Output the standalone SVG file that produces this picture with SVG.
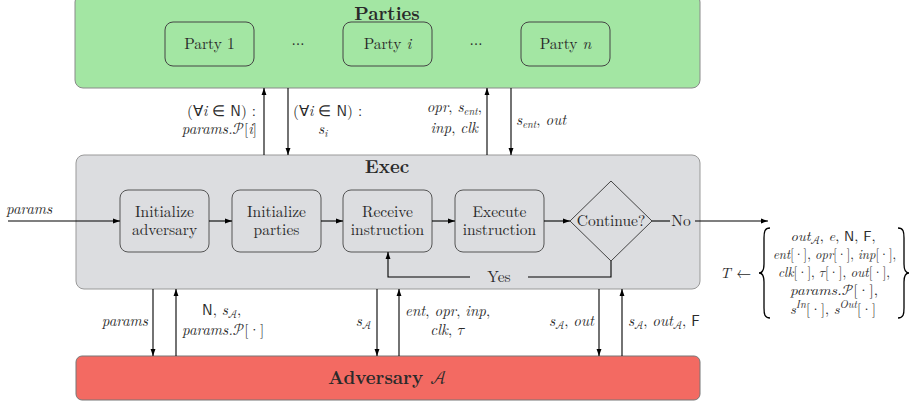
<svg xmlns="http://www.w3.org/2000/svg" width="918" height="405" viewBox="0 0 918 405" font-family="'Latin Modern Roman', 'Liberation Serif', serif">
<style>
text{fill:#2a2a2a}
.bx{font-size:15.5px;text-anchor:middle}
.ttl{font-size:18.5px;font-weight:bold;text-anchor:middle}
.lb{font-size:15px;font-style:italic}
.tf{font-size:14px;font-style:italic;text-anchor:middle}
.rm{font-style:normal}
.sub{font-size:10.5px}
.inner{fill:#dcdde0;stroke:#555;stroke-width:1}
.pbox{fill:#a3e6a3;stroke:#444;stroke-width:1}
.c{stroke:#000;stroke-width:1.1;fill:none}
</style>
<defs>
<marker id="ah" viewBox="0 0 10 10" refX="10" refY="5" markerWidth="7" markerHeight="7" orient="auto" markerUnits="userSpaceOnUse">
<path d="M0,1.5 L10,5 L0,8.5 Z" fill="#000"/>
</marker>
</defs>

<g id="parties">
<rect x="75" y="-6" width="625" height="94" rx="8" fill="#a3e6a3" stroke="#8a8a8a" stroke-width="1"/>
<text class="ttl" x="387" y="20">Parties</text>
<text class="bx" x="298" y="48" font-size="22" font-family="'Latin Modern Math', serif">⋯</text>
<text class="bx" x="476" y="48" font-size="22" font-family="'Latin Modern Math', serif">⋯</text>
</g>
<g id="party1"><rect class="pbox" x="165" y="22" width="89" height="44" rx="8"/><text class="bx" x="209.5" y="49">Party 1</text></g>
<g id="partyi"><rect class="pbox" x="343" y="22" width="89" height="44" rx="8"/><text class="bx" x="387.5" y="49">Party <tspan font-style="italic">i</tspan></text></g>
<g id="partyn"><rect class="pbox" x="521" y="22" width="89" height="44" rx="8"/><text class="bx" x="565.5" y="49">Party <tspan font-style="italic">n</tspan></text></g>

<g id="exec">
<rect x="76" y="155" width="624" height="134" rx="8" fill="#dcdde0" stroke="#999" stroke-width="1"/>
<text class="ttl" x="387" y="173">Exec</text>
</g>
<g id="initadv"><rect class="inner" x="120" y="190" width="89" height="62" rx="8"/><text class="bx" x="164.5" y="217">Initialize</text><text class="bx" x="164.5" y="235">adversary</text></g>
<g id="initparties"><rect class="inner" x="232" y="190" width="89" height="62" rx="8"/><text class="bx" x="276.5" y="217">Initialize</text><text class="bx" x="276.5" y="235">parties</text></g>
<g id="receive"><rect class="inner" x="343" y="190" width="89" height="62" rx="8"/><text class="bx" x="387.5" y="217">Receive</text><text class="bx" x="387.5" y="235">instruction</text></g>
<g id="execute"><rect class="inner" x="455" y="190" width="89" height="62" rx="8"/><text class="bx" x="499.5" y="217">Execute</text><text class="bx" x="499.5" y="235">instruction</text></g>
<g id="continue"><path d="M611,181 L652,221 L611,261 L570,221 Z" fill="#dcdde0" stroke="#444" stroke-width="1"/><text class="bx" x="611" y="226">Continue?</text></g>

<g id="adversary">
<rect x="76" y="356" width="624" height="44" rx="6" fill="#f36a62" stroke="#777" stroke-width="1"/>
<text class="ttl" x="387" y="384">Adversary <tspan font-family="'Latin Modern Math', serif" font-weight="normal">𝒜</tspan></text>
</g>

<g id="connectors">
<path class="c" d="M8,221 H120" marker-end="url(#ah)"/>
<path class="c" d="M209,221 H232" marker-end="url(#ah)"/>
<path class="c" d="M321,221 H343" marker-end="url(#ah)"/>
<path class="c" d="M432,221 H455" marker-end="url(#ah)"/>
<path class="c" d="M544,221 H570" marker-end="url(#ah)"/>
<path class="c" d="M652,221 H670"/>
<path class="c" d="M695,221 H768" marker-end="url(#ah)"/>
<path class="c" d="M611,261 V277 H528"/>
<path class="c" d="M470,277 H388 V252" marker-end="url(#ah)"/>
<path class="c" d="M264,155 V88" marker-end="url(#ah)"/>
<path class="c" d="M288,88 V155" marker-end="url(#ah)"/>
<path class="c" d="M487,155 V88" marker-end="url(#ah)"/>
<path class="c" d="M511,88 V155" marker-end="url(#ah)"/>
<path class="c" d="M153,289 V356" marker-end="url(#ah)"/>
<path class="c" d="M176,356 V289" marker-end="url(#ah)"/>
<path class="c" d="M377,289 V356" marker-end="url(#ah)"/>
<path class="c" d="M399,356 V289" marker-end="url(#ah)"/>
<path class="c" d="M599,289 V356" marker-end="url(#ah)"/>
<path class="c" d="M622,356 V289" marker-end="url(#ah)"/>
</g>

<g id="labels">
<text class="bx" x="681" y="226">No</text>
<text class="bx" x="499" y="282">Yes</text>
<text class="lb" x="6" y="214">params</text>

<text class="lb" x="256" y="116" text-anchor="end"><tspan class="rm">(∀</tspan>i<tspan class="rm"> ∈ </tspan><tspan class="rm" font-family="'Latin Modern Sans', 'Liberation Sans', sans-serif">N</tspan><tspan class="rm">) :</tspan></text>
<text class="lb" x="257" y="134" text-anchor="end">params.<tspan class="rm" font-family="'Latin Modern Math', serif">𝒫</tspan><tspan class="rm">[</tspan>i<tspan class="rm">]</tspan></text>
<text class="lb" x="293" y="116"><tspan class="rm">(∀</tspan>i<tspan class="rm"> ∈ </tspan><tspan class="rm" font-family="'Latin Modern Sans', 'Liberation Sans', sans-serif">N</tspan><tspan class="rm">) :</tspan></text>
<text class="lb" x="318" y="134">s<tspan class="sub" dy="3">i</tspan></text>
<text class="lb" x="482" y="112" text-anchor="end">opr<tspan class="rm">, </tspan>s<tspan class="sub" dy="3">ent</tspan><tspan class="rm" dy="-3">,</tspan></text>
<text class="lb" x="478" y="133" text-anchor="end">inp<tspan class="rm">, </tspan>clk</text>
<text class="lb" x="516" y="125">s<tspan class="sub" dy="3">ent</tspan><tspan class="rm" dy="-3">, </tspan>out</text>

<text class="lb" x="148" y="326" text-anchor="end">params</text>
<text class="lb" x="202" y="315"><tspan class="rm" font-family="'Latin Modern Sans', 'Liberation Sans', sans-serif">N</tspan><tspan class="rm">, </tspan>s<tspan class="sub rm" dy="3" font-family="'Latin Modern Math', serif">𝒜</tspan><tspan class="rm" dy="-3">,</tspan></text>
<text class="lb" x="182" y="335">params.<tspan class="rm" font-family="'Latin Modern Math', serif">𝒫</tspan><tspan class="rm">[·]</tspan></text>
<text class="lb" x="371" y="326" text-anchor="end">s<tspan class="sub rm" dy="3" font-family="'Latin Modern Math', serif">𝒜</tspan></text>
<text class="lb" x="405" y="316">ent<tspan class="rm">, </tspan>opr<tspan class="rm">, </tspan>inp<tspan class="rm">,</tspan></text>
<text class="lb" x="447" y="335" text-anchor="middle">clk<tspan class="rm">, </tspan><tspan class="rm" font-family="'Latin Modern Math', serif">𝜏</tspan></text>
<text class="lb" x="594" y="326" text-anchor="end">s<tspan class="sub rm" dy="3" font-family="'Latin Modern Math', serif">𝒜</tspan><tspan class="rm" dy="-3">, </tspan>out</text>
<text class="lb" x="628" y="326">s<tspan class="sub rm" dy="3" font-family="'Latin Modern Math', serif">𝒜</tspan><tspan class="rm" dy="-3">, </tspan>out<tspan class="sub rm" dy="3" font-family="'Latin Modern Math', serif">𝒜</tspan><tspan class="rm" dy="-3">, </tspan><tspan class="rm" font-family="'Latin Modern Sans', 'Liberation Sans', sans-serif">F</tspan></text>

<text class="lb" x="720" y="278">T <tspan class="rm">←</tspan></text>
<path d="M770,228 C764.5,228 764,232 764,238 L764,264 C764,270 762,273 759,273 C762,273 764,276 764,282 L764,308 C764,314 764.5,318 770,318" fill="none" stroke="#000" stroke-width="1.3"/>
<path d="M898,228 C903.5,228 904,232 904,238 L904,264 C904,270 906,273 909,273 C906,273 904,276 904,282 L904,308 C904,314 903.5,318 898,318" fill="none" stroke="#000" stroke-width="1.3"/>
<text class="tf" x="833" y="241" textLength="85" lengthAdjust="spacingAndGlyphs">out<tspan class="sub rm" dy="3" font-family="'Latin Modern Math', serif">𝒜</tspan><tspan class="rm" dy="-3">, </tspan>e<tspan class="rm">, </tspan><tspan class="rm" font-family="'Latin Modern Sans', 'Liberation Sans', sans-serif">N</tspan><tspan class="rm">, </tspan><tspan class="rm" font-family="'Latin Modern Sans', 'Liberation Sans', sans-serif">F</tspan><tspan class="rm">,</tspan></text>
<text class="tf" x="834.5" y="259" textLength="123" lengthAdjust="spacingAndGlyphs">ent<tspan class="rm">[·], </tspan>opr<tspan class="rm">[·], </tspan>inp<tspan class="rm">[·],</tspan></text>
<text class="tf" x="834" y="277" textLength="112" lengthAdjust="spacingAndGlyphs">clk<tspan class="rm">[·], </tspan><tspan class="rm" font-family="'Latin Modern Math', serif">𝜏</tspan><tspan class="rm">[·], </tspan>out<tspan class="rm">[·],</tspan></text>
<text class="tf" x="834" y="295" textLength="88" lengthAdjust="spacingAndGlyphs">params.<tspan class="rm" font-family="'Latin Modern Math', serif">𝒫</tspan><tspan class="rm">[·],</tspan></text>
<text class="tf" x="833" y="314" textLength="86" lengthAdjust="spacingAndGlyphs">s<tspan class="sub" dy="-6">In</tspan><tspan class="rm" dy="6">[·], </tspan>s<tspan class="sub" dy="-6">Out</tspan><tspan class="rm" dy="6">[·]</tspan></text>
</g>
</svg>
